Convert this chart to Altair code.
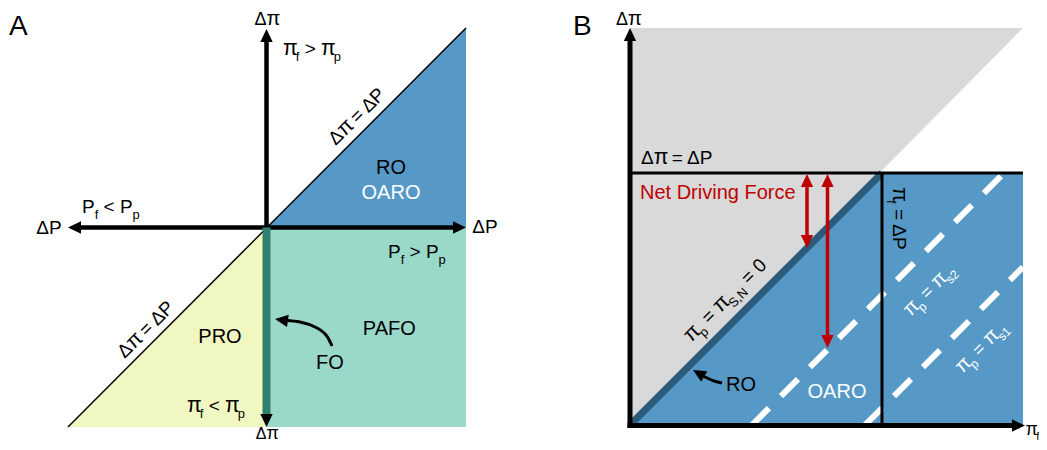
import math
import altair as alt
import pandas as pd

# ---------------- canvas (data units = page pixels; 8px page margin) ----------------
W, H = 1031, 434
X0, Y0 = 8, 8

BLACK = "#000000"; WHITE = "#FFFFFF"; RED = "#C00000"
BLUE = "#5799C6"; TEAL = "#9AD8C9"; YELLOW = "#F0F7C1"; GRAY = "#D9D9D9"
GREEN_DARK = "#2F8070"; BLUE_DARK = "#2B5A7A"

# ---------------- region fills (vertical strips: x, top, bottom) ----------------
fill_names  = ["A_RO", "A_PAFO", "A_PRO", "B_other", "B_OARO"]
fill_colors = [BLUE, TEAL, YELLOW, GRAY, BLUE]
fill_x      = [[266.5, 466], [266.5, 466], [68, 266.5], [630, 1023], [630, 882, 1023]]
fill_top    = [[227.5, 28], [227.5, 227.5], [427, 227.5], [28, 28], [425, 173, 173]]
fill_bottom = [[227.5, 227.5], [427, 427], [427, 427], [425, 28], [425, 425, 425]]

# ---------------- straight lines ----------------
rule_x     = [68,   78,    266.5, 266.5,      630,       630,  882,   630,  627.5, 807, 827.5]
rule_y     = [427,  227.5, 38,    227.5,      425,       173,  173,   38,   425.5, 185, 185]
rule_x2    = [466,  456,   266.5, 266.5,      882,       1023, 882,   630,  1015,  807, 827.5]
rule_y2    = [28,   227.5, 227.5, 418,        173,       173,  425.5, 428,  425.5, 238, 338]
rule_color = [BLACK, BLACK, BLACK, GREEN_DARK, BLUE_DARK, BLACK, BLACK, BLACK, BLACK, RED, RED]
rule_width = [1.5,  4.5,   4.5,   8,          7,         3,    3,     5,    5,     3.5, 3.5]

# ---------------- white dashed iso-lines (panel B) ----------------
dash_x  = [752, 865]
dash_y  = [425, 425]
dash_x2 = [1005, 1023]
dash_y2 = [172, 267]

# ---------------- curved pointer arrows ----------------
curve_id = ["FO", "FO", "FO", "FO", "FO", "RO", "RO", "RO"]
curve_x  = [332, 326, 315, 300, 286, 722, 714, 703]
curve_y  = [346, 335, 327, 322, 320.5, 383, 381, 376]

# ---------------- arrowheads (tip position, direction clockwise from up) ----------------
head_x     = [266.5, 68,    466,   266.5, 275, 630, 1025,  807, 807, 827.5, 827.5, 693]
head_y     = [29,    227.5, 227.5, 427,   319, 28,  425.5, 174, 248, 174,   348,   370]
head_dir   = [0,     270,   90,    180,   278, 0,   90,    0,   180, 0,     180,   300]
head_color = [BLACK, BLACK, BLACK, BLACK, BLACK, BLACK, BLACK, RED, RED, RED, RED, BLACK]
HEAD_SIZE = 169
ARROW = "M0,-1L0.95,1L-0.95,1Z"

# ---------------- text ----------------
CW = {"Δ": .668, "π": .60, " ": .278, "=": .584, "<": .584, ">": .584, "P": .667,
      "f": .278, "p": .556, "s": .5, "S": .667, ",": .278, "N": .722, "0": .556,
      "1": .556, "2": .556, "R": .722, "O": .778, "A": .667, "F": .611, "B": .667,
      "e": .556, "t": .278, "D": .722, "r": .333, "i": .222, "v": .5, "n": .556,
      "g": .556, "o": .556, "c": .5}
PI_SCALE = 1.12

def pieces(t, s):
    """split a string into runs, enlarging the pi glyph a little"""
    out, cur = [], ""
    for ch in t:
        if ch == "π":
            if cur:
                out.append((cur, s))
                cur = ""
            out.append((ch, s * PI_SCALE))
        else:
            cur += ch
    if cur:
        out.append((cur, s))
    return out

text_rows = []

def label(segs, x, y, size, color=BLACK, angle=0.0, align="left", ref="baseline"):
    sub = 0.68 * size
    runs = []
    for t, k in segs:
        for p, s in pieces(t, sub if k else size):
            runs.append((p, s, k))
    widths = [sum(CW.get(c, .556) for c in p) * s for p, s, _ in runs]
    total = sum(widths)
    a = math.radians(angle)
    ux, uy = math.cos(a), math.sin(a)
    nx, ny = -math.sin(a), math.cos(a)
    u = -total / 2 if align == "center" else 0.0
    v0 = 0.33 * size if ref == "middle" else 0.0
    for (p, s, k), w in zip(runs, widths):
        lead = len(p) - len(p.lstrip(" "))
        uu = u + lead * CW[" "] * s
        v = v0 + (0.3 * size if k else 0.0)
        if p.strip(" "):
            text_rows.append(dict(x=x + uu * ux + v * nx, y=y + uu * uy + v * ny,
                                  text=p.strip(" "), size=s, angle=angle % 360, color=color))
        u += w

# Panel A
label([("A", 0)], 9, 35, 28)
label([("Δπ", 0)], 266.5, 24.5, 18, align="center")
label([("π", 0), ("f", 1), (" > π", 0), ("p", 1)], 283, 55, 19)
label([("Δπ = ΔP", 0)], 357, 116, 19, angle=-45, align="center", ref="middle")
label([("RO", 0)], 391, 174, 20, align="center")
label([("OARO", 0)], 391, 199, 20, color=WHITE, align="center")
label([("P", 0), ("f", 1), (" < P", 0), ("p", 1)], 82, 213, 19)
label([("ΔP", 0)], 49, 234, 19, align="center")
label([("ΔP", 0)], 485, 233, 19, align="center")
label([("P", 0), ("f", 1), (" > P", 0), ("p", 1)], 388, 258, 19)
label([("Δπ = ΔP", 0)], 146, 329, 19, angle=-45, align="center", ref="middle")
label([("PRO", 0)], 220, 343, 20, align="center")
label([("PAFO", 0)], 390, 335, 20, align="center")
label([("FO", 0)], 330, 369, 20, align="center")
label([("π", 0), ("f", 1), (" < π", 0), ("p", 1)], 187, 412, 19)
label([("Δπ", 0)], 266.5, 438.5, 16, align="center")

# Panel B
label([("B", 0)], 573, 35, 28)
label([("Δπ", 0)], 628, 24.5, 18, align="center")
label([("Δπ = ΔP", 0)], 641, 164, 19)
label([("Net Driving Force", 0)], 640, 199, 20, color=RED)
label([("π", 0), ("p", 1), (" = π", 0), ("S,N", 1), (" = 0", 0)], 725, 300, 19,
      angle=-45, align="center", ref="middle")
label([("π", 0), ("f", 1), (" = ΔP", 0)], 899, 219, 19, angle=90, align="center", ref="middle")
label([("π", 0), ("p", 1), (" = π", 0), ("s2", 1)], 929, 290, 18, color=WHITE,
      angle=-45, align="center", ref="middle")
label([("π", 0), ("p", 1), (" = π", 0), ("s1", 1)], 981, 347, 18, color=WHITE,
      angle=-45, align="center", ref="middle")
label([("RO", 0)], 741, 391, 20, align="center")
label([("OARO", 0)], 837, 398, 20, color=WHITE, align="center")
label([("π", 0), ("f", 1)], 1025.5, 435, 16)

# ---------------- tables ----------------
fill_rows = []
for n, c, xs_, ts, bs in zip(fill_names, fill_colors, fill_x, fill_top, fill_bottom):
    for xv, tv, bv in zip(xs_, ts, bs):
        fill_rows.append(dict(name=n, color=c, x=xv, y=tv, y2=bv))
fills_df = pd.DataFrame(fill_rows)

rules_df = pd.DataFrame(dict(x=rule_x, y=rule_y, x2=rule_x2, y2=rule_y2,
                             color=rule_color, width=rule_width))
dash_df = pd.DataFrame(dict(x=dash_x, y=dash_y, x2=dash_x2, y2=dash_y2))
curve_df = pd.DataFrame(dict(id=curve_id, x=curve_x, y=curve_y, i=list(range(len(curve_x)))))

unit = math.sqrt(HEAD_SIZE) / 2
heads_df = pd.DataFrame(dict(
    x=[hx - math.sin(math.radians(d)) * unit for hx, d in zip(head_x, head_dir)],
    y=[hy + math.cos(math.radians(d)) * unit for hy, d in zip(head_y, head_dir)],
    angle=head_dir, color=head_color))
text_df = pd.DataFrame(text_rows)

xs = alt.Scale(domain=[X0, X0 + W], nice=False, zero=False)
ys = alt.Scale(domain=[Y0, Y0 + H], nice=False, zero=False, reverse=True)
X = lambda f="x": alt.X(f"{f}:Q", scale=xs, axis=None)
Y = lambda f="y": alt.Y(f"{f}:Q", scale=ys, axis=None)

fills = alt.Chart(fills_df).mark_area(opacity=1, interpolate="linear").encode(
    x=X(), y=Y(), y2="y2:Q", color=alt.Color("color:N", scale=None), detail="name:N")

dashes = alt.Chart(dash_df).mark_rule(color=WHITE, strokeWidth=6, strokeDash=[24, 17],
                                      strokeCap="butt").encode(
    x=X(), y=Y(), x2="x2:Q", y2="y2:Q")

rules = alt.Chart(rules_df).mark_rule(strokeCap="butt").encode(
    x=X(), y=Y(), x2="x2:Q", y2="y2:Q",
    color=alt.Color("color:N", scale=None), size=alt.Size("width:Q", scale=None))

curves = alt.Chart(curve_df).mark_line(interpolate="natural", strokeWidth=3, color=BLACK,
                                       strokeCap="butt").encode(
    x=X(), y=Y(), detail="id:N", order="i:Q")

heads = alt.Chart(heads_df).mark_point(shape=ARROW, filled=True, opacity=1, size=HEAD_SIZE,
                                       strokeWidth=0).encode(
    x=X(), y=Y(), angle=alt.Angle("angle:Q", scale=None),
    color=alt.Color("color:N", scale=None))

texts = alt.Chart(text_df).mark_text(align="left", baseline="alphabetic",
                                     font="Liberation Sans").encode(
    x=X(), y=Y(), text="text:N", size=alt.Size("size:Q", scale=None),
    angle=alt.Angle("angle:Q", scale=None), color=alt.Color("color:N", scale=None))

chart = alt.layer(fills, dashes, rules, curves, heads, texts).properties(
    width=W, height=H, padding=0, autosize=alt.AutoSizeParams(type="none"),
    background="white").configure_view(stroke=None)

chart.save("out.html", embed_options={"renderer": "svg", "actions": False})
